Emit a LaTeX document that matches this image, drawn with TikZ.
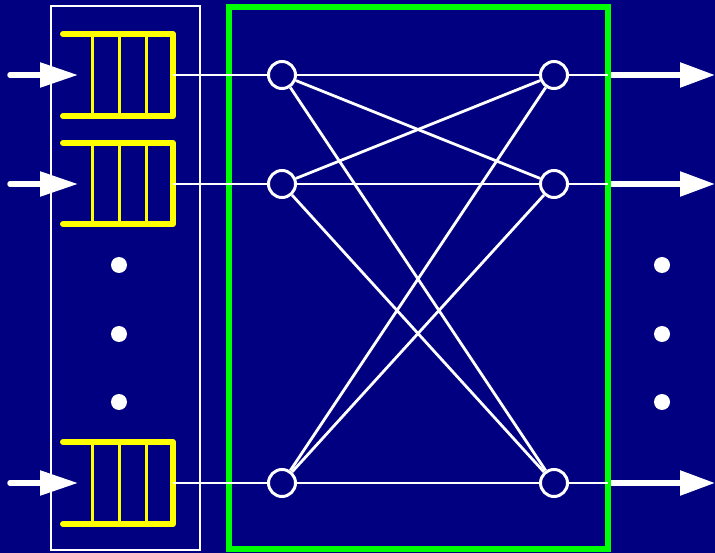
\documentclass[tikz,border=0pt]{standalone}
\usepackage{tikz}
\usetikzlibrary{arrows.meta}
\definecolor{navy}{RGB}{0,0,128}
\definecolor{brightgreen}{RGB}{0,255,0}
\definecolor{qyellow}{RGB}{255,255,0}
\tikzset{
    port/.style={circle, draw=white, line width=3pt, minimum size=27pt, inner sep=0pt},
    link/.style={white, line width=2.8pt},
    queue/.style={qyellow, line width=6pt, line cap=round, line join=round},
    slot/.style={qyellow, line width=3pt},
    inarrow/.style={white, line width=5.5pt, line cap=round, -{Triangle[length=38pt,width=24pt]}},
    outarrow/.style={white, line width=5.5pt, -{Triangle[length=35pt,width=24pt]}},
    dot/.style={circle, fill=white, minimum size=16pt, inner sep=0pt}
}

\begin{document}
\begin{tikzpicture}[x=1pt,y=-1pt]
                \fill[navy] (0,0) rectangle (715,553);
                \useasboundingbox (0,0) rectangle (715,553);

                % Input buffers
                \draw[white, line width=2.5pt] (51,6) rectangle (200,550);

                \draw[queue] (63,34) -- (173,34) -- (173,116) -- (63,116);
                \draw[slot] (92,34) -- (92,116) (119,34) -- (119,116) (146,34) -- (146,116);
                \coordinate (q1) at (173,75);

                \draw[queue] (63,143) -- (173,143) -- (173,224) -- (63,224);
                \draw[slot] (92,143) -- (92,224) (119,143) -- (119,224) (146,143) -- (146,224);
                \coordinate (q2) at (173,184);

                \draw[queue] (63,442) -- (173,442) -- (173,524) -- (63,524);
                \draw[slot] (92,442) -- (92,524) (119,442) -- (119,524) (146,442) -- (146,524);
                \coordinate (q3) at (173,483);

                % Incoming traffic
                \coordinate (in1) at (10,75);
                \coordinate (in2) at (10,184);
                \coordinate (in3) at (10,483);
                \coordinate (head1) at (78,75);
                \coordinate (head2) at (78,184);
                \coordinate (head3) at (78,483);
                \draw[inarrow] (in1) -- (head1);
                \draw[inarrow] (in2) -- (head2);
                \draw[inarrow] (in3) -- (head3);

                % Switch fabric
                \draw[brightgreen, line width=6pt] (228.5,7) rectangle (608,549);

                \node[port] (l1) at (282,75) {};
                \node[port] (l2) at (282,184) {};
                \node[port] (l3) at (282,483) {};
                \node[port] (r1) at (554,75) {};
                \node[port] (r2) at (554,184) {};
                \node[port] (r3) at (554,483) {};

                \draw[link] (q1) -- (l1);
                \draw[link] (q2) -- (l2);
                \draw[link] (q3) -- (l3);

                \draw[link] (l1) -- (r1);
                \draw[link] (l1) -- (r2);
                \draw[link] (l1) -- (r3);
                \draw[link] (l2) -- (r1);
                \draw[link] (l2) -- (r2);
                \draw[link] (l2) -- (r3);
                \draw[link] (l3) -- (r1);
                \draw[link] (l3) -- (r2);
                \draw[link] (l3) -- (r3);

                % Outgoing traffic
                \coordinate (edge1) at (608,75);
                \coordinate (edge2) at (608,184);
                \coordinate (edge3) at (608,483);
                \coordinate (out1) at (715,75);
                \coordinate (out2) at (715,184);
                \coordinate (out3) at (715,483);
                \draw[link] (r1) -- (edge1);
                \draw[link] (r2) -- (edge2);
                \draw[link] (r3) -- (edge3);
                \draw[outarrow] ([xshift=3pt]edge1) -- (out1);
                \draw[outarrow] ([xshift=3pt]edge2) -- (out2);
                \draw[outarrow] ([xshift=3pt]edge3) -- (out3);

                % Ellipsis dots
                \node[dot] (ldot1) at (119,265) {};
                \node[dot] (ldot2) at (119,334) {};
                \node[dot] (ldot3) at (119,402) {};
                \node[dot] (rdot1) at (662,265) {};
                \node[dot] (rdot2) at (662,334) {};
                \node[dot] (rdot3) at (662,402) {};
\end{tikzpicture}
\end{document}
